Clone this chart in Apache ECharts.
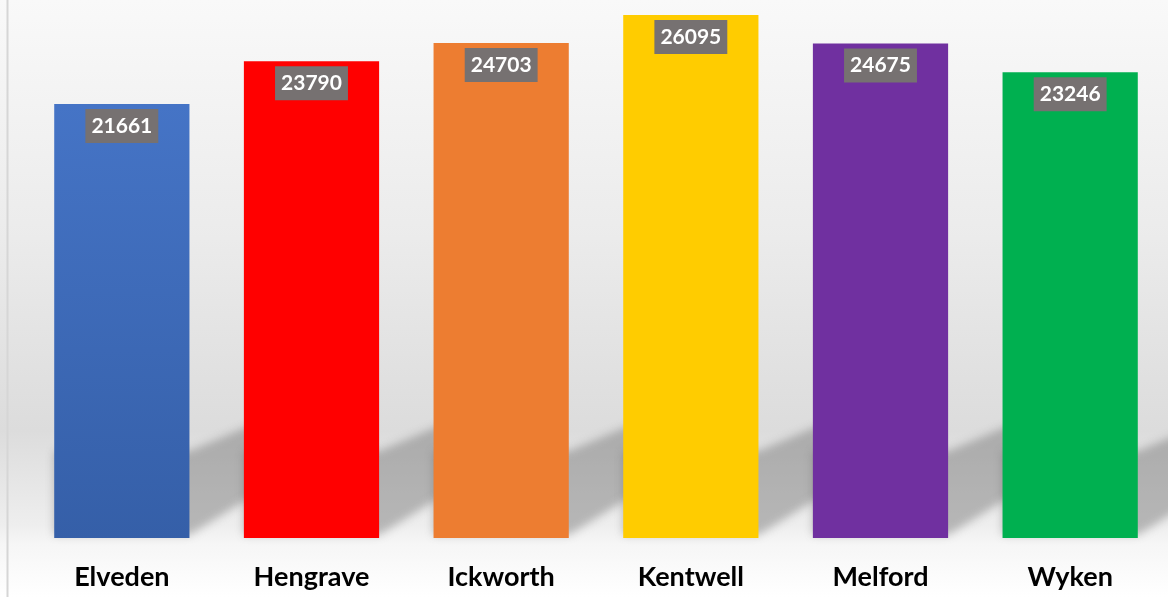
<!DOCTYPE html>
<html><head><meta charset="utf-8">
<script src="https://cdn.jsdelivr.net/npm/echarts@6/dist/echarts.min.js"></script>
<style>html,body{margin:0;padding:0;}#c{width:1168px;height:597px;}</style>
</head><body><div id="c"></div>
<script>
const categories = ['Elveden','Hengrave','Ickworth','Kentwell','Melford','Wyken'];
const values = [21661, 23790, 24703, 26095, 24675, 23246];
const barColors = ['#4472C4','#FF0000','#ED7D31','#FFCC00','#7030A0','#00B050'];

const chart = echarts.init(document.getElementById('c'));
const barData = values.map((v, i) => ({
  value: v,
  itemStyle: {
    color: i === 0 ? new echarts.graphic.LinearGradient(0,0,0,1,[{offset:0,color:'#4574C6'},{offset:1,color:'#355FA8'}]) : barColors[i]
  }
}));

chart.setOption({
  backgroundColor: new echarts.graphic.LinearGradient(0,0,0,1,[
    {offset:0,color:'#f9f9f9'},
    {offset:0.4,color:'#ebebeb'},
    {offset:0.72,color:'#dcdcdc'},
    {offset:0.88,color:'#eeeeee'},
    {offset:0.91,color:'#f6f6f6'},
    {offset:1,color:'#ffffff'}
  ]),
  animation: false,
  grid: {left: 27, right: 3, top: 7, bottom: 59},
  xAxis: {
    type: 'category',
    data: categories,
    axisLine: {show: false},
    axisTick: {show: false},
    axisLabel: {color: '#000', fontFamily: 'Lato', fontWeight: 'bold', fontSize: 27, margin: 26}
  },
  yAxis: {type: 'value', min: 0, max: 26500, show: false, splitLine: {show: false}},
  graphic: [{
    type: 'line', shape: {x1: 7.5, y1: 0, x2: 7.5, y2: 597},
    style: {stroke: '#d6d6d6', lineWidth: 2}, z: 10
  }],
  series: [{
    type: 'custom',
    z: 1,
    data: values.map((v, i) => [i, 0]),
    renderItem: function (params, api) {
      const base = api.coord([api.value(0), 0]);
      const w = api.size([1, 0])[0] * 0.713;
      const x0 = base[0] - w / 2, x1 = base[0] + w / 2, y = base[1] - 3;
      const W = 80, off = 3000;
      return {
        type: 'polygon',
        shape: {points: [
          [x0 - off, y], [x1 - off, y], [x1 + W - off, y - 0.62 * W],
          [x1 + W - off, y - 84 - 0.42 * W], [x1 - off, y - 84], [x0 - off, y - 84]
        ]},
        style: {
          fill: '#707070',
          shadowBlur: 8, shadowColor: 'rgba(105,105,105,0.42)',
          shadowOffsetX: off, shadowOffsetY: 0
        }
      };
    },
    silent: true
  }, {
    type: 'bar',
    z: 2,
    data: barData,
    barWidth: '71.3%',
    label: {
      show: true,
      position: 'insideTop',
      distance: 5,
      color: '#fff',
      fontFamily: 'Lato',
      fontWeight: 'bold',
      fontSize: 21,
      lineHeight: 22,
      backgroundColor: '#767171',
      padding: [6, 6, 6, 6]
    }
  }]
});
</script></body></html>
